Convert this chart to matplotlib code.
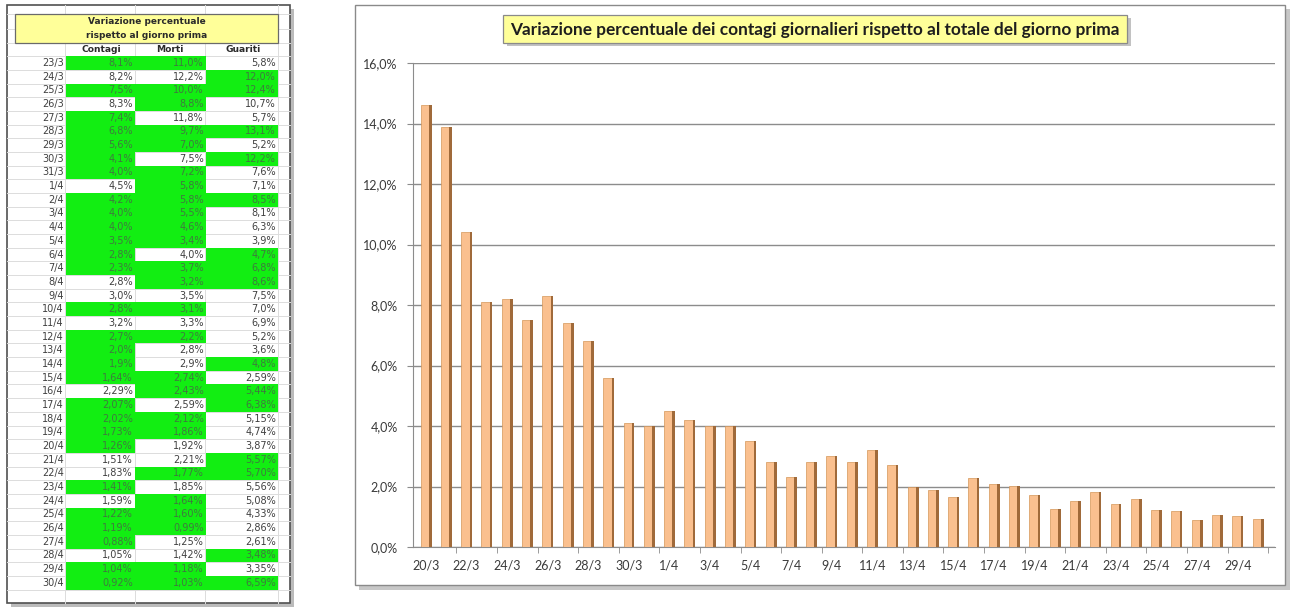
import matplotlib
matplotlib.use("Agg")
import matplotlib.pyplot as plt
import numpy as np
from matplotlib.patches import Rectangle
from matplotlib.ticker import FixedLocator, FuncFormatter

# ---------------- data ----------------
chart_dates = ["20/3", "21/3", "22/3", "23/3", "24/3", "25/3", "26/3", "27/3", "28/3", "29/3",
               "30/3", "31/3", "1/4", "2/4", "3/4", "4/4", "5/4", "6/4", "7/4", "8/4", "9/4",
               "10/4", "11/4", "12/4", "13/4", "14/4", "15/4", "16/4", "17/4", "18/4", "19/4",
               "20/4", "21/4", "22/4", "23/4", "24/4", "25/4", "26/4", "27/4", "28/4", "29/4", "30/4"]
chart_contagi = [14.6, 13.9, 10.4, 8.1, 8.2, 7.5, 8.3, 7.4, 6.8, 5.6,
                 4.1, 4.0, 4.5, 4.2, 4.0, 4.0, 3.5, 2.8, 2.3, 2.8, 3.0,
                 2.8, 3.2, 2.7, 2.0, 1.9, 1.64, 2.29, 2.07, 2.02, 1.73,
                 1.26, 1.51, 1.83, 1.41, 1.59, 1.22, 1.19, 0.88, 1.05, 1.04, 0.92]

table_dates = chart_dates[3:]
table_contagi = ["8,1%", "8,2%", "7,5%", "8,3%", "7,4%", "6,8%", "5,6%", "4,1%", "4,0%",
                 "4,5%", "4,2%", "4,0%", "4,0%", "3,5%", "2,8%", "2,3%", "2,8%", "3,0%", "2,8%",
                 "3,2%", "2,7%", "2,0%", "1,9%", "1,64%", "2,29%", "2,07%", "2,02%", "1,73%", "1,26%",
                 "1,51%", "1,83%", "1,41%", "1,59%", "1,22%", "1,19%", "0,88%", "1,05%", "1,04%", "0,92%"]
table_morti = ["11,0%", "12,2%", "10,0%", "8,8%", "11,8%", "9,7%", "7,0%", "7,5%", "7,2%",
               "5,8%", "5,8%", "5,5%", "4,6%", "3,4%", "4,0%", "3,7%", "3,2%", "3,5%", "3,1%",
               "3,3%", "2,2%", "2,8%", "2,9%", "2,74%", "2,43%", "2,59%", "2,12%", "1,86%", "1,92%",
               "2,21%", "1,77%", "1,85%", "1,64%", "1,60%", "0,99%", "1,25%", "1,42%", "1,18%", "1,03%"]
table_guariti = ["5,8%", "12,0%", "12,4%", "10,7%", "5,7%", "13,1%", "5,2%", "12,2%", "7,6%",
                 "7,1%", "8,5%", "8,1%", "6,3%", "3,9%", "4,7%", "6,8%", "8,6%", "7,5%", "7,0%",
                 "6,9%", "5,2%", "3,6%", "4,8%", "2,59%", "5,44%", "6,38%", "5,15%", "4,74%", "3,87%",
                 "5,57%", "5,70%", "5,56%", "5,08%", "4,33%", "2,86%", "2,61%", "3,48%", "3,35%", "6,59%"]
# G = green highlighted cell, W = white cell
green_contagi = "GWGWGGGGG" + "WGGGGGGWWG" + "WGGGGWGGGG" + "WWGWGGGWGG"
green_morti = "GWGGWGGWG" + "GGGGGWGGWG" + "WGWWGGWGGW" + "WGWGGGWWGG"
green_guariti = "WGGWWGWGW" + "WGWWWGGGWW" + "WWWGWGGWWW" + "GGWWWWWGWG"

table_title = ["Variazione percentuale", "rispetto al giorno prima"]
table_headers = ["Contagi", "Morti", "Guariti"]
chart_title = "Variazione percentuale dei contagi giornalieri rispetto al totale del giorno prima"
y_ticks = [0, 2, 4, 6, 8, 10, 12, 14, 16]

# ---------------- figure ----------------
W, H = 1294, 607
fig = plt.figure(figsize=(W / 100, H / 100), dpi=100)
fig.patch.set_facecolor("white")
bg = fig.add_axes([0, 0, 1, 1], zorder=0)
bg.set_xlim(0, W)
bg.set_ylim(H, 0)
bg.axis("off")


def rect(x0, y0, x1, y1, **kw):
    bg.add_patch(Rectangle((x0, y0), x1 - x0, y1 - y0, **kw))


# ---------- table (left) ----------
rect(11, 9, 294, 607, facecolor="#8f8f8f", edgecolor="none", alpha=0.6)
rect(7, 5, 290, 603, facecolor="white", edgecolor="#505050", lw=1.2)

col_edges = [7, 65, 135, 205, 278, 290]
row_h = 13.68
row0 = 63.0
grid_c = "#dcdcdc"
for xe in col_edges[1:-1]:
    bg.plot([xe, xe], [5, 603], color=grid_c, lw=0.7, zorder=1)
ys = [14, 28.5, 42.5] + [row0 - row_h / 2 + i * row_h for i in range(41)]
for yy in ys:
    if yy < 603:
        bg.plot([7, 290], [yy, yy], color=grid_c, lw=0.7, zorder=1)

# header box
rect(15, 14, 278, 42.5, facecolor="#ffff99", edgecolor="#6a6a6a", lw=0.9, zorder=3)
bg.text(147, 21.5, table_title[0], ha="center", va="center", fontsize=6.5,
        fontweight="bold", color="#2a2a2a", family="DejaVu Sans", zorder=4)
bg.text(147, 35.5, table_title[1], ha="center", va="center", fontsize=6.5,
        fontweight="bold", color="#2a2a2a", family="DejaVu Sans", zorder=4)
for hx, h in zip([101, 170, 243], table_headers):
    bg.text(hx, 49.5, h, ha="center", va="center", fontsize=6.6, fontweight="bold",
            color="#2a2a2a", family="DejaVu Sans", zorder=4)

green = "#12ee12"
cols = [(table_contagi, green_contagi, 66, 135, 133),
        (table_morti, green_morti, 135, 206, 204),
        (table_guariti, green_guariti, 206, 278, 276)]
for i, d in enumerate(table_dates):
    yc = row0 + i * row_h
    bg.text(64, yc, d, ha="right", va="center", fontsize=7.0, color="#404040",
            family="DejaVu Sans", zorder=4)
    for vals, mask, x0, x1, xr in cols:
        g = mask[i] == "G"
        if g:
            rect(x0, yc - row_h / 2, x1, yc + row_h / 2, facecolor=green,
                 edgecolor="none", zorder=2)
        bg.text(xr, yc, vals[i], ha="right", va="center", fontsize=7.0,
                color="#3f7a3f" if g else "#404040", family="DejaVu Sans", zorder=4)

# ---------- chart frame (right) ----------
rect(359, 9, 1290, 590, facecolor="#9a9a9a", edgecolor="none", alpha=0.55)
rect(355, 5, 1285, 585, facecolor="white", edgecolor="#8a8a8a", lw=1)
rect(507, 18, 1131, 46, facecolor="#a8a8a8", edgecolor="none", alpha=0.7, zorder=3)
rect(503, 15, 1127, 43, facecolor="#ffff99", edgecolor="#8a8a8a", lw=0.9, zorder=4)
bg.text(815, 29.5, chart_title, ha="center", va="center", fontsize=12.4,
        fontweight="bold", color="#1e1e1e", family="Lato", zorder=5)

# ---------- chart axes ----------
left, right, top, bottom = 413, 1275, 63, 547
ax = fig.add_axes([left / W, (H - bottom) / H, (right - left) / W, (bottom - top) / H], zorder=2)
ax.patch.set_alpha(0)
x = np.arange(len(chart_contagi))
ax.bar(x - 0.06, chart_contagi, width=0.41, color="#fac08f", edgecolor="#d49658",
       lw=0.5, zorder=3)
ax.bar(x + 0.21, chart_contagi, width=0.13, color="#a06a3a", edgecolor="none", zorder=3)

ax.set_xlim(-0.64, 41.84)
ax.set_ylim(0, 16)
ax.yaxis.set_major_locator(FixedLocator(y_ticks))
ax.yaxis.set_major_formatter(FuncFormatter(lambda v, p: f"{v:.1f}%".replace(".", ",")))
ax.grid(axis="y", color="#8c8c8c", lw=1.0, zorder=0)
for s in ["top", "right"]:
    ax.spines[s].set_visible(False)
ax.spines["left"].set_color("#8c8c8c")
ax.spines["bottom"].set_color("#8c8c8c")
ax.tick_params(axis="y", length=4, color="#8c8c8c", pad=7, labelsize=9, labelcolor="#3a3a3a")
ax.set_xticks(x[::2])
ax.set_xticklabels(chart_dates[::2])
ax.set_xticks(np.arange(1.5, 42, 2), minor=True)
ax.tick_params(axis="x", which="major", length=0, pad=9, labelsize=9, labelcolor="#3a3a3a")
ax.tick_params(axis="x", which="minor", length=4, color="#8c8c8c")
for t in ax.get_xticklabels() + ax.get_yticklabels():
    t.set_family("Lato")

fig.savefig("out.png", dpi=100, facecolor="white")
